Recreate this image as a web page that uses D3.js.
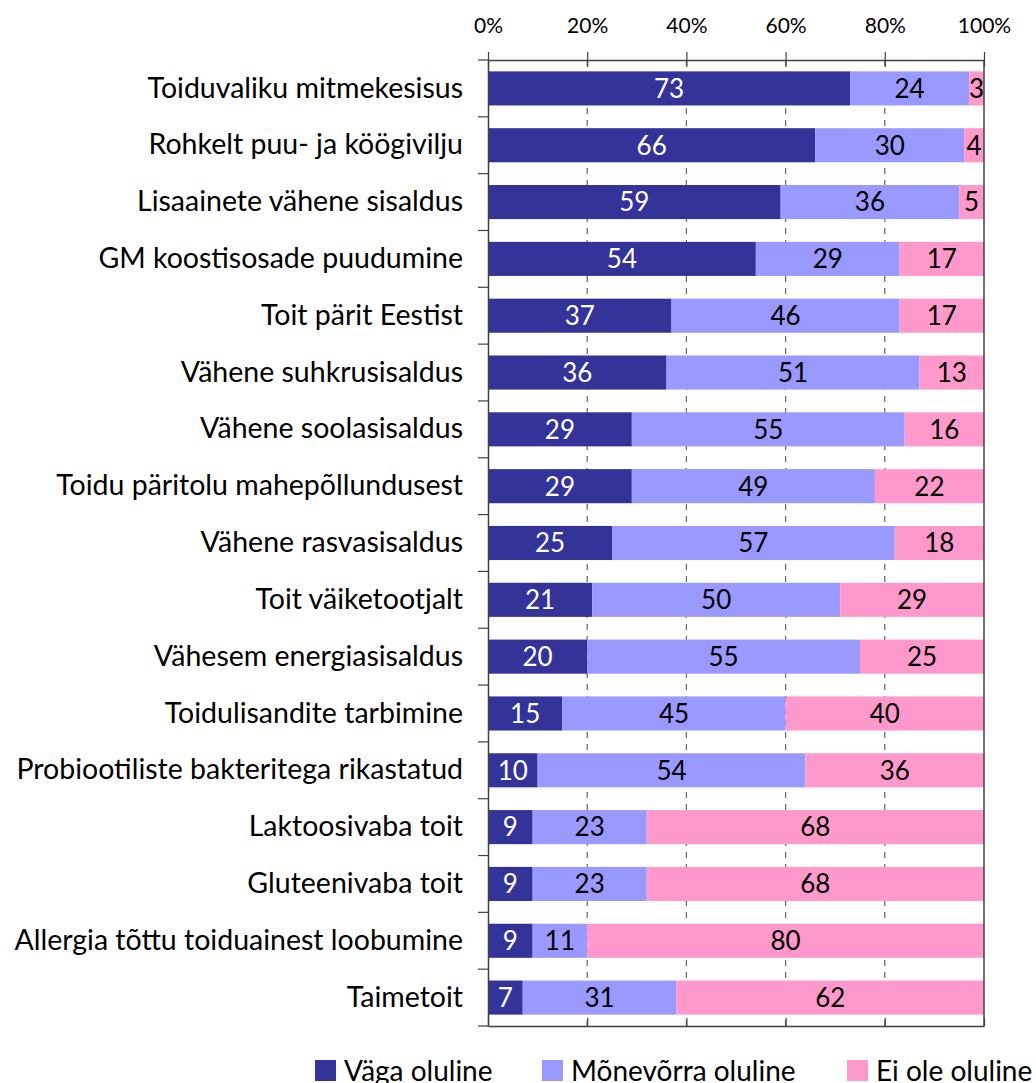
<!DOCTYPE html>
<html>
<head>
<meta charset="utf-8">
<script src="https://cdn.jsdelivr.net/npm/d3@7"></script>
<style>
  body { margin: 0; background: #fff; }
  svg text { font-family: Lato, "Open Sans", sans-serif; }
</style>
</head>
<body>
<svg id="chart" width="1036" height="1083"></svg>
<script>
const categories = [
  "Toiduvaliku mitmekesisus",
  "Rohkelt puu- ja köögivilju",
  "Lisaainete vähene sisaldus",
  "GM koostisosade puudumine",
  "Toit pärit Eestist",
  "Vähene suhkrusisaldus",
  "Vähene soolasisaldus",
  "Toidu päritolu mahepõllundusest",
  "Vähene rasvasisaldus",
  "Toit väiketootjalt",
  "Vähesem energiasisaldus",
  "Toidulisandite tarbimine",
  "Probiootiliste bakteritega rikastatud",
  "Laktoosivaba toit",
  "Gluteenivaba toit",
  "Allergia tõttu toiduainest loobumine",
  "Taimetoit"
];
const vagaOluline = [73, 66, 59, 54, 37, 36, 29, 29, 25, 21, 20, 15, 10, 9, 9, 9, 7];
const monevorraOluline = [24, 30, 36, 29, 46, 51, 55, 49, 57, 50, 55, 45, 54, 23, 23, 11, 31];
const eiOleOluline = [3, 4, 5, 17, 17, 13, 16, 22, 18, 29, 25, 40, 36, 68, 68, 80, 62];
const seriesNames = ["Väga oluline", "Mõnevõrra oluline", "Ei ole oluline"];
const xTicks = [0, 20, 40, 60, 80, 100];

const colors = ["#333399", "#9999ff", "#ff99cc"];
const textColors = ["#ffffff", "#000000", "#000000"];

const svg = d3.select("#chart");
const plotLeft = 488, plotRight = 984, plotTop = 60, plotBottom = 1026;

const rows = categories.map((c, i) => ({
  cat: c, vals: [vagaOluline[i], monevorraOluline[i], eiOleOluline[i]]
}));

const x = d3.scaleLinear().domain([0, 100]).range([plotLeft, plotRight]);
const y = d3.scaleBand().domain(categories).range([plotTop, plotBottom])
  .paddingInner(0.4).paddingOuter(0.2);

// dashed gridlines
svg.append("g").selectAll("line")
  .data([20, 40, 60, 80])
  .enter().append("line")
  .attr("x1", d => x(d)).attr("x2", d => x(d))
  .attr("y1", plotTop).attr("y2", plotBottom)
  .attr("stroke", "#6f6f6f")
  .attr("stroke-width", 1.3)
  .attr("stroke-dasharray", "6,6");

// bars
const stack = d3.stack().keys([0, 1, 2]).value((d, k) => d.vals[k]);
const layers = stack(rows);

const gBars = svg.append("g");
layers.forEach((layer, k) => {
  gBars.selectAll(".bar" + k)
    .data(layer)
    .enter().append("rect")
    .attr("x", d => x(d[0]))
    .attr("y", d => y(d.data.cat))
    .attr("width", d => x(d[1]) - x(d[0]))
    .attr("height", y.bandwidth())
    .attr("fill", colors[k]);

  gBars.selectAll(".lbl" + k)
    .data(layer)
    .enter().append("text")
    .attr("x", d => (x(d[0]) + x(d[1])) / 2)
    .attr("y", d => y(d.data.cat) + y.bandwidth() / 2)
    .attr("dy", "0.36em")
    .attr("text-anchor", "middle")
    .attr("font-size", "26px")
    .attr("fill", textColors[k])
    .text(d => d.data.vals[k]);
});

// top axis
const axisColor = "#404040";
const gTop = svg.append("g")
  .attr("transform", `translate(0,${plotTop})`)
  .call(d3.axisTop(x).tickValues(xTicks).tickFormat(d => d + "%")
    .tickSize(8).tickSizeOuter(0).tickPadding(19));
gTop.select(".domain").attr("stroke", axisColor).attr("stroke-width", 1.5);
gTop.selectAll(".tick line").attr("stroke", axisColor).attr("stroke-width", 1.2)
  .attr("y1", 7);
gTop.selectAll(".tick text").attr("font-size", "21px").attr("fill", "#000")
  .attr("font-family", "Lato, sans-serif");

// bottom axis
const gBot = svg.append("g")
  .attr("transform", `translate(0,${plotBottom})`)
  .call(d3.axisBottom(x).tickValues(xTicks).tickFormat("")
    .tickSize(-8).tickSizeOuter(0));
gBot.select(".domain").attr("stroke", axisColor).attr("stroke-width", 1.5);
gBot.selectAll(".tick line").attr("stroke", axisColor).attr("stroke-width", 1.2);

// right edge line at 100%
svg.append("line")
  .attr("x1", x(100)).attr("x2", x(100))
  .attr("y1", plotTop).attr("y2", plotBottom)
  .attr("stroke", axisColor).attr("stroke-width", 1.5);

// left axis with category labels
const gLeft = svg.append("g")
  .attr("transform", `translate(${plotLeft},0)`)
  .call(d3.axisLeft(y).tickSize(0).tickPadding(25));
gLeft.select(".domain").attr("stroke", axisColor).attr("stroke-width", 1.5);
gLeft.selectAll(".tick text").attr("font-size", "28.5px").attr("fill", "#000")
  .attr("font-family", "Lato, sans-serif");

// category boundary ticks
const step = y.step();
const bounds = categories.map(c => y(c) - step * 0.2).concat([plotBottom]);
svg.append("g").selectAll("line")
  .data(bounds)
  .enter().append("line")
  .attr("x1", plotLeft - 10).attr("x2", plotLeft)
  .attr("y1", d => d).attr("y2", d => d)
  .attr("stroke", axisColor).attr("stroke-width", 1.2);

// legend
const legendX = [315, 542, 847];
const legend = svg.append("g");
seriesNames.forEach((name, i) => {
  legend.append("rect")
    .attr("x", legendX[i]).attr("y", 1060)
    .attr("width", 21).attr("height", 21)
    .attr("fill", colors[i]);
  legend.append("text")
    .attr("x", legendX[i] + 29).attr("y", 1081)
    .attr("font-size", "28px")
    .attr("fill", "#000")
    .text(name);
});
</script>
</body>
</html>
